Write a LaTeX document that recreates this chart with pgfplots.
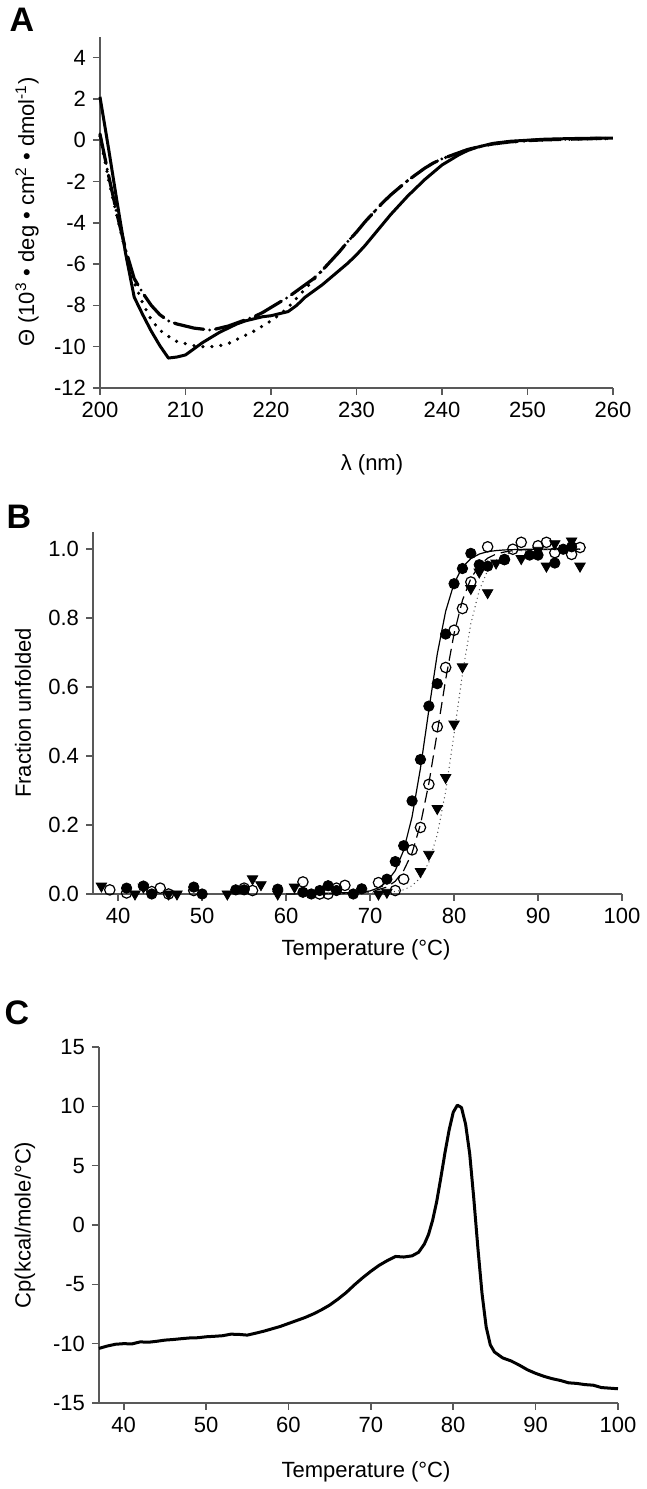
\documentclass[border=0pt]{standalone}
\usepackage{fontspec}
\setmainfont{Liberation Sans}
\usepackage{pgfplots}
\pgfplotsset{compat=1.18}
\begin{document}
\begin{tikzpicture}
\useasboundingbox (0,0) rectangle (323.5pt,744.5pt);
\pgfplotsset{
  panel/.style={scale only axis, anchor=south west, axis lines*=left,
    tick align=outside, major tick length=3.5pt,
    axis line style={black!65, line width=0.8pt},
    every tick/.style={black!65, line width=0.8pt},
    tick label style={font=\fontsize{11}{13}\selectfont},
    /pgf/number format/assume math mode=true,
    clip=false},
}
% ---------------- Panel A ----------------
\begin{axis}[panel, at={(50pt,550.5pt)}, width=256.5pt, height=175.5pt,
  xmin=200, xmax=260, ymin=-12, ymax=5,
  xtick={200,210,...,260}, ytick={-12,-10,...,4}]
\addplot[black, line width=1.5pt, line join=round] coordinates {
(200,2.1)(201,-0.4)(202,-3.0)(203,-5.5)(204,-7.6)(205,-8.45)(206,-9.25)(207,-9.95)(208,-10.55)(209,-10.5)(210,-10.4)(211,-10.1)(212,-9.8)(213,-9.55)(214,-9.3)(215,-9.1)(216,-8.9)(217,-8.75)(218,-8.65)(219,-8.55)(220,-8.5)(221,-8.4)(222,-8.3)(223,-8.0)(224,-7.6)(225,-7.3)(226,-7.0)(227,-6.65)(228,-6.3)(229,-5.95)(230,-5.55)(231,-5.1)(232,-4.6)(233,-4.1)(234,-3.6)(235,-3.15)(236,-2.7)(237,-2.3)(238,-1.9)(239,-1.55)(240,-1.2)(241,-0.95)(242,-0.7)(243,-0.5)(244,-0.35)(245,-0.25)(246,-0.15)(248,-0.05)(250,0.0)(252,0.05)(255,0.08)(258,0.1)(260,0.1)};
\addplot[black, line width=1.8pt, line cap=round, dash pattern=on 0pt off 4.5pt] coordinates {
(200,0.2)(201,-1.9)(202,-3.7)(203,-5.4)(204,-6.9)(205,-7.9)(206,-8.7)(207,-9.2)(208,-9.5)(209,-9.75)(210,-9.85)(211,-9.95)(212,-10.0)(213,-10.0)(214,-9.95)(215,-9.85)(216,-9.65)(217,-9.45)(218,-9.25)(219,-9.0)(220,-8.75)(221,-8.45)(222,-8.1)(223,-7.65)(224,-7.2)(225,-6.75)(226,-6.3)(227,-5.85)(228,-5.4)(229,-4.9)(230,-4.45)(231,-3.95)(232,-3.5)(233,-3.05)(234,-2.65)(235,-2.3)(236,-1.95)(237,-1.65)(238,-1.35)(239,-1.1)(240,-0.9)(241,-0.75)(242,-0.6)(243,-0.45)(244,-0.35)(245,-0.25)(246,-0.18)(248,-0.08)(250,-0.02)(252,0.02)(255,0.05)(258,0.08)(260,0.08)};
\addplot[black, line width=1.6pt, line cap=round, dash pattern=on 15pt off 3pt on 0pt off 3pt] coordinates {
(200,0.3)(201,-1.7)(202,-3.6)(203,-5.3)(204,-6.7)(205,-7.4)(206,-8.0)(207,-8.45)(208,-8.75)(209,-8.9)(210,-9.0)(211,-9.1)(212,-9.15)(213,-9.2)(214,-9.1)(215,-9.0)(216,-8.85)(217,-8.7)(218,-8.55)(219,-8.35)(220,-8.1)(221,-7.85)(222,-7.6)(223,-7.3)(224,-7.0)(225,-6.7)(226,-6.3)(227,-5.85)(228,-5.4)(229,-4.9)(230,-4.45)(231,-3.95)(232,-3.5)(233,-3.05)(234,-2.65)(235,-2.3)(236,-1.95)(237,-1.65)(238,-1.35)(239,-1.1)(240,-0.9)(241,-0.75)(242,-0.6)(243,-0.45)(244,-0.35)(245,-0.25)(246,-0.18)(248,-0.08)(250,-0.02)(252,0.02)(255,0.05)(258,0.08)(260,0.08)};
\end{axis}
% ---------------- Panel B ----------------
\begin{axis}[panel, at={(46.5pt,297.5pt)}, width=264.5pt, height=181pt,
  xmin=37, xmax=100, ymin=0, ymax=1.05,
  xtick={40,50,...,100}, ytick={0,0.2,...,1.0},
  yticklabel style={/pgf/number format/.cd, fixed, fixed zerofill, precision=1}]
\addplot[only marks, mark=triangle*, mark size=3pt, mark options={rotate=180, black}] coordinates {
(38,0.023)(42,0.0)(43,0.02)(46,0.0)(47,0.0)(53,0.0)(56,0.044)(57,0.027)(59,0.0)(61,0.02)(71,0.0)(72,0.005)(76,0.065)(77,0.115)(78,0.248)(79,0.338)(80,0.493)(81,0.659)(82,0.886)(83,0.934)(84,0.874)(85,0.96)(88,0.973)(90,0.997)(91,0.951)(92,1.016)(94,1.024)(95,0.951)};
\addplot[only marks, mark=*, mark size=2.6pt, mark options={black}] coordinates {
(41,0.017)(43,0.023)(44,0.0)(49,0.02)(50,0.0)(54,0.012)(55,0.012)(59,0.014)(62,0.005)(63,0.0)(64,0.01)(65,0.024)(66,0.01)(68,0.0)(69,0.015)(72,0.043)(73,0.094)(74,0.14)(75,0.27)(76,0.39)(77,0.545)(78,0.61)(79,0.754)(80,0.90)(81,0.944)(82,0.988)(83,0.955)(84,0.951)(86,0.97)(89,0.983)(90,0.983)(92,0.96)(93,1.0)(94,1.007)};
\addplot[only marks, mark=o, mark size=2.6pt, mark options={black, fill=white, line width=0.6pt}] coordinates {
(39,0.012)(41,0.003)(44,0.007)(45,0.017)(46,0.0)(49,0.01)(55,0.017)(56,0.01)(62,0.035)(64,0.0)(65,0.0)(66,0.017)(67,0.025)(71,0.033)(73,0.01)(74,0.043)(75,0.128)(76,0.193)(77,0.318)(78,0.485)(79,0.657)(80,0.765)(81,0.828)(82,0.905)(84,1.007)(86,0.97)(87,1.0)(88,1.02)(90,1.01)(91,1.02)(92,0.99)(94,0.985)(95,1.005)};
\addplot[black, line width=0.6pt] coordinates {
(60,0.0)(68,0.002)(70,0.009)(71,0.018)(72,0.035)(73,0.068)(74,0.127)(75,0.224)(76,0.365)(77,0.534)(78,0.696)(79,0.820)(80,0.901)(81,0.948)(82,0.973)(83,0.986)(84,0.993)(85,0.996)(86,0.998)(88,0.9996)(90,1.0)(95,1.0)};
\addplot[black, line width=0.6pt, dash pattern=on 6pt off 3pt] coordinates {
(62,0.0)(70,0.006)(72,0.020)(73,0.037)(74,0.068)(75,0.119)(76,0.202)(77,0.321)(78,0.469)(79,0.622)(80,0.755)(81,0.852)(82,0.915)(83,0.953)(84,0.974)(85,0.986)(86,0.992)(87,0.996)(88,0.998)(90,0.999)(95,1.0)};
\addplot[black!70, line width=0.7pt, line cap=round, dash pattern=on 0pt off 2.2pt] coordinates {
(64,0.0)(72,0.003)(74,0.012)(75,0.024)(76,0.047)(77,0.092)(78,0.172)(79,0.298)(80,0.464)(81,0.639)(82,0.784)(83,0.881)(84,0.938)(85,0.969)(86,0.984)(87,0.992)(88,0.996)(90,0.999)(95,1.0)};
\end{axis}
% ---------------- Panel C ----------------
\begin{axis}[panel, at={(49.5pt,43pt)}, width=259.5pt, height=178pt,
  xmin=37, xmax=100, ymin=-15, ymax=15,
  xtick={40,50,...,100}, ytick={-15,-10,...,15}]
\addplot[black, line width=1.5pt, line join=round] coordinates {
(37,-10.4)(38,-10.2)(39,-10.05)(40,-10.0)(41,-10.02)(42,-9.85)(43,-9.88)(44,-9.8)(45,-9.7)(46,-9.65)(47,-9.58)(48,-9.52)(49,-9.5)(50,-9.42)(51,-9.38)(52,-9.33)(53,-9.2)(54,-9.22)(55,-9.28)(56,-9.12)(57,-8.95)(58,-8.75)(59,-8.55)(60,-8.3)(61,-8.05)(62,-7.8)(63,-7.5)(64,-7.15)(65,-6.75)(66,-6.25)(67,-5.7)(68,-5.05)(69,-4.45)(70,-3.9)(71,-3.4)(72,-3.0)(73,-2.65)(74,-2.7)(75,-2.6)(75.8,-2.3)(76.5,-1.6)(77,-0.8)(77.5,0.4)(78,2.0)(78.5,4.0)(79,6.1)(79.5,8.0)(80,9.5)(80.5,10.1)(81,9.9)(81.5,8.5)(82,6.0)(82.5,2.2)(83,-2.0)(83.5,-5.8)(84,-8.6)(84.5,-10.1)(85,-10.7)(86,-11.2)(87,-11.45)(88,-11.8)(89,-12.2)(90,-12.5)(91,-12.75)(92,-12.95)(93,-13.1)(94,-13.3)(95,-13.35)(96,-13.45)(97,-13.5)(98,-13.7)(99,-13.75)(100,-13.8)};
\end{axis}
% ---------------- Labels ----------------
\node[font=\fontsize{17}{20}\selectfont\bfseries] at (11pt,734.5pt) {A};
\node[font=\fontsize{17}{20}\selectfont\bfseries] at (9.5pt,486pt) {B};
\node[font=\fontsize{17}{20}\selectfont\bfseries] at (8.5pt,238pt) {C};
\node[rotate=90, font=\fontsize{11}{13}\selectfont] at (13.5pt,638.5pt) {Θ (10\textsuperscript{3} • deg • cm\textsuperscript{2} • dmol\textsuperscript{-1})};
\node[font=\fontsize{11}{13}\selectfont] at (186pt,512pt) {λ (nm)};
\node[rotate=90, font=\fontsize{11}{13}\selectfont] at (11.5pt,388pt) {Fraction unfolded};
\node[font=\fontsize{11}{13}\selectfont] at (183pt,269.5pt) {Temperature (°C)};
\node[rotate=90, font=\fontsize{11}{13}\selectfont] at (12.5pt,132pt) {Cp(kcal/mole/°C)};
\node[font=\fontsize{11}{13}\selectfont] at (183pt,8.5pt) {Temperature (°C)};
\end{tikzpicture}
\end{document}
